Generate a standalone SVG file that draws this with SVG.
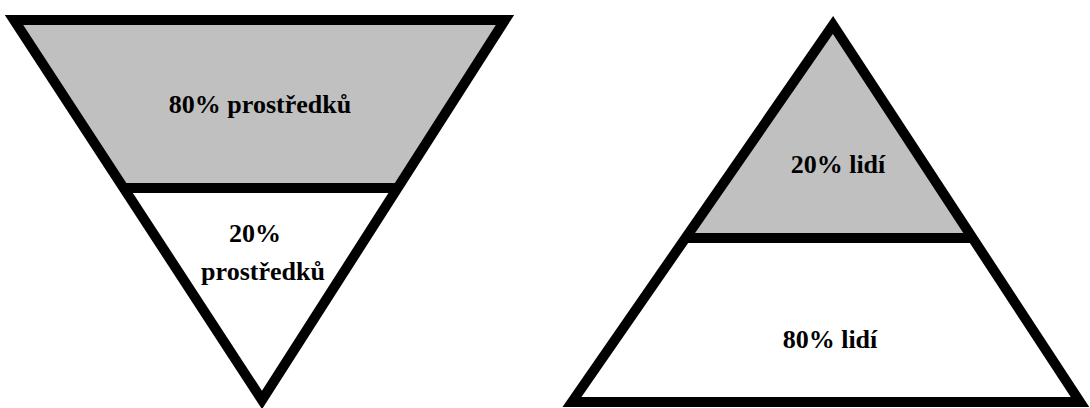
<svg xmlns="http://www.w3.org/2000/svg" width="1090" height="408" viewBox="0 0 1090 408">
<style>
.out{fill:none;stroke:#000;stroke-width:10;stroke-linejoin:miter;stroke-miterlimit:10}
.gray{fill:#c0c0c0;stroke:none}
.div{stroke:#000;stroke-width:10}
.t{font-family:'Liberation Serif','Times New Roman',serif;font-weight:700;font-size:26px;fill:#000;text-anchor:middle}
</style>
<rect width="1090" height="408" fill="#fff"/>
<g id="inverted">
<polygon class="gray" points="14,20 505,20 397,188 124,188"/>
<polygon class="out" points="14,20 505,20 262,400"/>
<line class="div" x1="124" y1="188" x2="399" y2="188"/>
<text class="t" x="260" y="113">80% prostředků</text>
<text class="t" x="255" y="242">20%</text>
<text class="t" x="263" y="280">prostředků</text>
</g>
<g id="pyramid">
<polygon class="gray" points="833,25 973,238 686,238"/>
<polygon class="out" points="833,25 1080,402 572,402"/>
<line class="div" x1="684" y1="238" x2="975" y2="238"/>
<text class="t" x="838" y="173">20% lidí</text>
<text class="t" x="830" y="348">80% lidí</text>
</g>
</svg>
